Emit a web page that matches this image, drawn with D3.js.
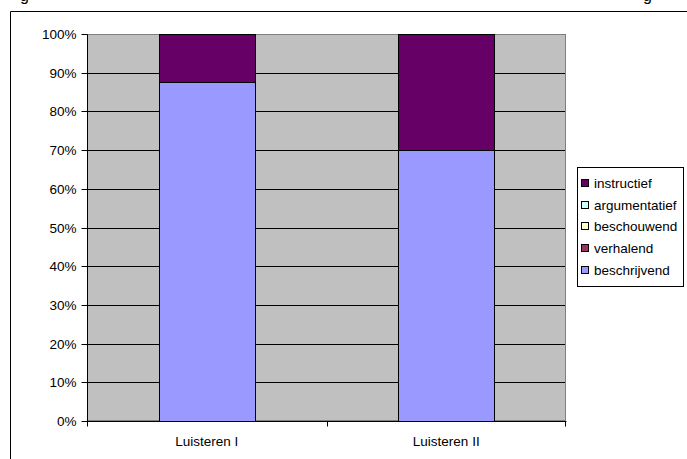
<!DOCTYPE html>
<html>
<head>
<meta charset="utf-8">
<script src="https://cdn.jsdelivr.net/npm/d3@7/dist/d3.min.js"></script>
<style>
  html, body { margin: 0; padding: 0; background: #fff; }
  svg { display: block; font-family: "Liberation Sans", Arial, sans-serif; }
</style>
</head>
<body>
<svg id="chart" width="687" height="459"></svg>
<script>
// Categories and series (percentage shares per listening task)
const categories = ["Luisteren I", "Luisteren II"];
const seriesNames = ["beschrijvend", "verhalend", "beschouwend", "argumentatief", "instructief"];
const beschrijvend = [87.5, 70];
const verhalend = [0, 0];
const beschouwend = [0, 0];
const argumentatief = [0, 0];
const instructief = [12.5, 30];
const yTicks = [0, 10, 20, 30, 40, 50, 60, 70, 80, 90, 100];
const seriesColors = ["#9999FF", "#993366", "#FFFFCC", "#CCFFFF", "#660066"];

const seriesValues = [beschrijvend, verhalend, beschouwend, argumentatief, instructief];
const rows = categories.map((c, i) => {
  const r = { category: c };
  seriesNames.forEach((s, k) => { r[s] = seriesValues[k][i]; });
  return r;
});

const FONT = 13.5;
const svg = d3.select("#chart");
const plot = { left: 87, right: 566, top: 34, bottom: 421 };

// Outer chart frame (top and left edges visible)
svg.append("line").attr("x1", 10.5).attr("x2", 687).attr("y1", 11.5).attr("y2", 11.5)
  .attr("stroke", "#000").attr("stroke-width", 1);
svg.append("line").attr("x1", 10.5).attr("x2", 10.5).attr("y1", 11.5).attr("y2", 459)
  .attr("stroke", "#000").attr("stroke-width", 1);

// Descenders of the heading line above the frame
svg.append("text").attr("x", 20).attr("y", 1).attr("font-size", 16).text("g");
svg.append("text").attr("x", 643).attr("y", 1).attr("font-size", 16).text("g");

const x = d3.scaleBand().domain(categories)
  .range([plot.left, plot.right]).paddingInner(0.6).paddingOuter(0.3);
const y = d3.scaleLinear().domain([0, 100]).range([plot.bottom, plot.top]);
const crisp = v => Math.round(v) + 0.5;

// Plot area background
svg.append("rect")
  .attr("x", plot.left).attr("y", plot.top)
  .attr("width", plot.right - plot.left).attr("height", plot.bottom - plot.top)
  .attr("fill", "#C0C0C0");

// Gridlines
svg.append("g").selectAll("line").data(yTicks.filter(t => t > 0 && t < 100)).join("line")
  .attr("x1", plot.left).attr("x2", plot.right)
  .attr("y1", d => crisp(y(d))).attr("y2", d => crisp(y(d)))
  .attr("stroke", "#000").attr("stroke-width", 1);

// Plot area border
svg.append("rect")
  .attr("x", plot.left + 0.5).attr("y", plot.top + 0.5)
  .attr("width", plot.right - plot.left - 1).attr("height", plot.bottom - plot.top - 1)
  .attr("fill", "none").attr("stroke", "#808080").attr("stroke-width", 1);

// Stacked bars
const stack = d3.stack().keys(seriesNames);
const layers = stack(rows);
const bw = x.bandwidth();
svg.append("g").selectAll("g").data(layers).join("g")
  .attr("fill", (d, i) => seriesColors[i])
  .selectAll("rect").data(d => d.filter(p => p[1] - p[0] > 0)).join("rect")
  .attr("x", d => Math.round(x(d.data.category)) + 0.5)
  .attr("width", Math.round(bw))
  .attr("y", d => Math.round(y(d[1])) + 0.5)
  .attr("height", d => Math.round(y(d[0])) - Math.round(y(d[1])))
  .attr("stroke", "#000").attr("stroke-width", 1);

// Y axis
const yAxis = d3.axisLeft(y).tickValues(yTicks).tickSize(6).tickPadding(5)
  .tickFormat(d => d + "%");
const gy = svg.append("g").attr("transform", `translate(${plot.left + 0.5},0.5)`).call(yAxis);
gy.select(".domain").attr("stroke", "#000").attr("d", `M0,${plot.top}V${plot.bottom}`);
gy.selectAll(".tick line").attr("stroke", "#000");
gy.selectAll(".tick").attr("transform", d => `translate(0,${Math.round(y(d))})`);
gy.selectAll("text").attr("font-size", FONT).attr("fill", "#000")
  .attr("font-family", "'Liberation Sans', Arial, sans-serif");

// X axis
const gx = svg.append("g").attr("transform", `translate(0,${plot.bottom + 0.5})`);
gx.append("line").attr("x1", plot.left).attr("x2", plot.right + 0.5)
  .attr("y1", 0).attr("y2", 0).attr("stroke", "#000");
const xBoundaries = [plot.left, plot.left + (plot.right - plot.left) / 2, plot.right];
gx.selectAll("line.tk").data(xBoundaries).join("line").attr("class", "tk")
  .attr("x1", d => crisp(d) - (d === plot.right ? 1 : 0))
  .attr("x2", d => crisp(d) - (d === plot.right ? 1 : 0))
  .attr("y1", 0).attr("y2", 5).attr("stroke", "#000");
gx.selectAll("text").data(categories).join("text")
  .attr("x", d => x(d) + bw / 2).attr("y", 24)
  .attr("text-anchor", "middle").attr("font-size", FONT).attr("fill", "#000")
  .text(d => d);

// Legend
const legend = svg.append("g");
legend.append("rect").attr("x", 577.5).attr("y", 167.5).attr("width", 106).attr("height", 119)
  .attr("fill", "#fff").attr("stroke", "#000").attr("stroke-width", 1);
const legendOrder = seriesNames.map((s, i) => ({ name: s, color: seriesColors[i] })).reverse();
const items = legend.selectAll("g.item").data(legendOrder).join("g").attr("class", "item")
  .attr("transform", (d, i) => `translate(0,${Math.round(183 + i * 21.7)})`);
items.append("rect").attr("x", 581.5).attr("y", -3.5).attr("width", 7).attr("height", 7)
  .attr("fill", d => d.color).attr("stroke", "#000").attr("stroke-width", 1);
items.append("text").attr("x", 594).attr("y", 4.5).attr("font-size", FONT).attr("fill", "#000")
  .text(d => d.name);
</script>
</body>
</html>
